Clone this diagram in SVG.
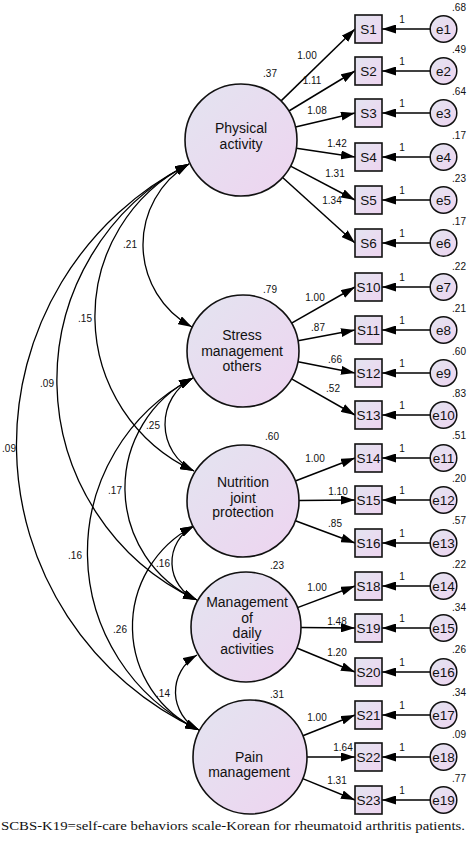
<svg xmlns="http://www.w3.org/2000/svg" width="469" height="846" viewBox="0 0 469 846">
<defs>
<linearGradient id="g" x1="0" y1="0" x2="1" y2="1">
<stop offset="0" stop-color="#e3e4f0"/>
<stop offset="1" stop-color="#eed4f0"/>
</linearGradient>
<marker id="ah" markerWidth="14" markerHeight="9" refX="14" refY="4.5" orient="auto-start-reverse" markerUnits="userSpaceOnUse">
<path d="M0,0 L14,4.5 L0,9 z" fill="#000"/>
</marker>
</defs>
<style>
.lat{fill:url(#g);stroke:#111;stroke-width:1.6}
.box{fill:url(#g);stroke:#111;stroke-width:1.6}
.err{fill:url(#g);stroke:#111;stroke-width:1.5}
.t{font-family:"Liberation Sans",Arial,sans-serif;fill:#111}
.lt{font-size:14px;text-anchor:middle}
.bt{font-size:13.5px;text-anchor:middle}
.n{font-size:10px;text-anchor:middle}
.ln{stroke:#000;stroke-width:1.5;fill:none;marker-end:url(#ah)}
.cv{stroke:#000;stroke-width:1.3;fill:none;marker-start:url(#ah);marker-end:url(#ah)}
.cap{font-family:"Liberation Serif","Times New Roman",serif;font-size:13.5px;fill:#111}
</style>

<g id="connectors">
<!-- loadings -->
<line class="ln" x1="281.1" y1="100.9" x2="355" y2="29"/>
<line class="ln" x1="288.9" y1="111" x2="355" y2="71"/>
<line class="ln" x1="295.5" y1="127.1" x2="355" y2="113"/>
<line class="ln" x1="296.4" y1="148.3" x2="355" y2="157"/>
<line class="ln" x1="290.6" y1="166.1" x2="355" y2="200"/>
<line class="ln" x1="282.6" y1="177.5" x2="355" y2="243"/>
<line class="ln" x1="291.6" y1="323.2" x2="355" y2="287"/>
<line class="ln" x1="298" y1="340.7" x2="355" y2="330"/>
<line class="ln" x1="298" y1="361.8" x2="355" y2="373"/>
<line class="ln" x1="291.6" y1="378.8" x2="355" y2="415"/>
<line class="ln" x1="295.3" y1="481" x2="355" y2="458"/>
<line class="ln" x1="299" y1="500.5" x2="355" y2="500"/>
<line class="ln" x1="295.4" y1="520.7" x2="355" y2="543"/>
<line class="ln" x1="297.5" y1="607.6" x2="355" y2="586"/>
<line class="ln" x1="301" y1="627.5" x2="355" y2="628"/>
<line class="ln" x1="296.8" y1="648" x2="355" y2="672"/>
<line class="ln" x1="302.9" y1="735.8" x2="355" y2="715"/>
<line class="ln" x1="307" y1="757" x2="355" y2="757"/>
<line class="ln" x1="302.7" y1="778.6" x2="355" y2="800"/>
<!-- error paths -->
<line class="ln" x1="430.2" y1="29" x2="382" y2="29"/>
<line class="ln" x1="430.2" y1="71" x2="382" y2="71"/>
<line class="ln" x1="430.2" y1="113" x2="382" y2="113"/>
<line class="ln" x1="430.2" y1="157" x2="382" y2="157"/>
<line class="ln" x1="430.2" y1="200" x2="382" y2="200"/>
<line class="ln" x1="430.2" y1="243" x2="382" y2="243"/>
<line class="ln" x1="430.2" y1="287" x2="382" y2="287"/>
<line class="ln" x1="430.2" y1="330" x2="382" y2="330"/>
<line class="ln" x1="430.2" y1="373" x2="382" y2="373"/>
<line class="ln" x1="430.2" y1="415" x2="382" y2="415"/>
<line class="ln" x1="430.2" y1="458" x2="382" y2="458"/>
<line class="ln" x1="430.2" y1="500" x2="382" y2="500"/>
<line class="ln" x1="430.2" y1="543" x2="382" y2="543"/>
<line class="ln" x1="430.2" y1="586" x2="382" y2="586"/>
<line class="ln" x1="430.2" y1="628" x2="382" y2="628"/>
<line class="ln" x1="430.2" y1="672" x2="382" y2="672"/>
<line class="ln" x1="430.2" y1="715" x2="382" y2="715"/>
<line class="ln" x1="430.2" y1="757" x2="382" y2="757"/>
<line class="ln" x1="430.2" y1="800" x2="382" y2="800"/>
<!-- covariances -->
<path class="cv" d="M189,164 A93.7,93.7 0 0 0 192,327"/>
<path class="cv" d="M189,164 A170.3,170.3 0 0 0 194,471"/>
<path class="cv" d="M189,164 A242.7,242.7 0 0 0 197,600"/>
<path class="cv" d="M189,164 A314.4,314.4 0 0 0 199,730"/>
<path class="cv" d="M193,378 A52.2,52.2 0 0 0 194,471"/>
<path class="cv" d="M193,378 A123,123 0 0 0 197,600"/>
<path class="cv" d="M193,378 A197,197 0 0 0 199,730"/>
<path class="cv" d="M194,526 A40.9,40.9 0 0 0 197,600"/>
<path class="cv" d="M194,526 A113.3,113.3 0 0 0 199,730"/>
<path class="cv" d="M197,655 A42.5,42.5 0 0 0 199,730"/>
<!-- labels -->
<g class="t n">
<text x="307" y="58.5">1.00</text>
<text x="312" y="83.5">1.11</text>
<text x="317" y="113.5">1.08</text>
<text x="337" y="146.5">1.42</text>
<text x="335" y="176.5">1.31</text>
<text x="332" y="203.5">1.34</text>
<text x="315" y="300.5">1.00</text>
<text x="318" y="330.5">.87</text>
<text x="335" y="362.5">.66</text>
<text x="333" y="391.5">.52</text>
<text x="315" y="461.5">1.00</text>
<text x="338" y="494.5">1.10</text>
<text x="335" y="526.5">.85</text>
<text x="317" y="590.5">1.00</text>
<text x="337" y="624.5">1.48</text>
<text x="337" y="655.5">1.20</text>
<text x="317" y="720.5">1.00</text>
<text x="343" y="750.5">1.64</text>
<text x="337" y="783.5">1.31</text>
<text x="402" y="23">1</text>
<text x="402" y="65">1</text>
<text x="402" y="107">1</text>
<text x="402" y="151">1</text>
<text x="402" y="194">1</text>
<text x="402" y="237">1</text>
<text x="402" y="281">1</text>
<text x="402" y="324">1</text>
<text x="402" y="367">1</text>
<text x="402" y="409">1</text>
<text x="402" y="452">1</text>
<text x="402" y="494">1</text>
<text x="402" y="537">1</text>
<text x="402" y="580">1</text>
<text x="402" y="622">1</text>
<text x="402" y="666">1</text>
<text x="402" y="709">1</text>
<text x="402" y="751">1</text>
<text x="402" y="794">1</text>
<text x="130" y="247.5">.21</text>
<text x="85" y="321.5">.15</text>
<text x="47" y="386.5">.09</text>
<text x="9" y="451.5">.09</text>
<text x="153" y="428.5">.25</text>
<text x="115" y="493.5">.17</text>
<text x="75" y="558.5">.16</text>
<text x="163" y="566.5">.16</text>
<text x="120" y="632.5">.26</text>
<text x="163" y="696.5">.14</text>
</g>
</g>

<g id="PA"><circle class="lat" cx="241" cy="140" r="56"/><text class="t lt" x="241" y="133">Physical</text><text class="t lt" x="241" y="148.5">activity</text><text class="t n" x="270" y="76.5">.37</text></g>
<g id="SM"><circle class="lat" cx="243" cy="351" r="56"/><text class="t lt" x="242" y="340">Stress</text><text class="t lt" x="242" y="355.5">management</text><text class="t lt" x="242" y="371">others</text><text class="t n" x="270" y="292.5">.79</text></g>
<g id="NJ"><circle class="lat" cx="243" cy="501" r="56"/><text class="t lt" x="243" y="487">Nutrition</text><text class="t lt" x="243" y="502.5">joint</text><text class="t lt" x="243" y="517">protection</text><text class="t n" x="272" y="439.5">.60</text></g>
<g id="MD"><circle class="lat" cx="246" cy="627" r="55"/><text class="t lt" x="247" y="607">Management</text><text class="t lt" x="247" y="622.5">of</text><text class="t lt" x="247" y="638">daily</text><text class="t lt" x="247" y="654">activities</text><text class="t n" x="277" y="568.5">.23</text></g>
<g id="PM"><circle class="lat" cx="250" cy="757" r="57"/><text class="t lt" x="249" y="762">Pain</text><text class="t lt" x="249" y="777">management</text><text class="t n" x="277" y="697.5">.31</text></g>

<g id="S1"><rect class="box" x="355" y="15" width="27" height="28"/><text class="t bt" x="368.5" y="34">S1</text></g>
<g id="S2"><rect class="box" x="355" y="57" width="27" height="28"/><text class="t bt" x="368.5" y="76">S2</text></g>
<g id="S3"><rect class="box" x="355" y="99" width="27" height="28"/><text class="t bt" x="368.5" y="118">S3</text></g>
<g id="S4"><rect class="box" x="355" y="143" width="27" height="28"/><text class="t bt" x="368.5" y="162">S4</text></g>
<g id="S5"><rect class="box" x="355" y="186" width="27" height="28"/><text class="t bt" x="368.5" y="205">S5</text></g>
<g id="S6"><rect class="box" x="355" y="229" width="27" height="28"/><text class="t bt" x="368.5" y="248">S6</text></g>
<g id="S10"><rect class="box" x="355" y="273" width="27" height="28"/><text class="t bt" x="368.5" y="292">S10</text></g>
<g id="S11"><rect class="box" x="355" y="316" width="27" height="28"/><text class="t bt" x="368.5" y="335">S11</text></g>
<g id="S12"><rect class="box" x="355" y="359" width="27" height="28"/><text class="t bt" x="368.5" y="378">S12</text></g>
<g id="S13"><rect class="box" x="355" y="401" width="27" height="28"/><text class="t bt" x="368.5" y="420">S13</text></g>
<g id="S14"><rect class="box" x="355" y="444" width="27" height="28"/><text class="t bt" x="368.5" y="463">S14</text></g>
<g id="S15"><rect class="box" x="355" y="486" width="27" height="28"/><text class="t bt" x="368.5" y="505">S15</text></g>
<g id="S16"><rect class="box" x="355" y="529" width="27" height="28"/><text class="t bt" x="368.5" y="548">S16</text></g>
<g id="S18"><rect class="box" x="355" y="572" width="27" height="28"/><text class="t bt" x="368.5" y="591">S18</text></g>
<g id="S19"><rect class="box" x="355" y="614" width="27" height="28"/><text class="t bt" x="368.5" y="633">S19</text></g>
<g id="S20"><rect class="box" x="355" y="658" width="27" height="28"/><text class="t bt" x="368.5" y="677">S20</text></g>
<g id="S21"><rect class="box" x="355" y="701" width="27" height="28"/><text class="t bt" x="368.5" y="720">S21</text></g>
<g id="S22"><rect class="box" x="355" y="743" width="27" height="28"/><text class="t bt" x="368.5" y="762">S22</text></g>
<g id="S23"><rect class="box" x="355" y="786" width="27" height="28"/><text class="t bt" x="368.5" y="805">S23</text></g>

<g id="e1"><circle class="err" cx="443.5" cy="29" r="13.3"/><text class="t bt" x="443.5" y="34">e1</text><text class="t n" x="459" y="11">.68</text></g>
<g id="e2"><circle class="err" cx="443.5" cy="71" r="13.3"/><text class="t bt" x="443.5" y="76">e2</text><text class="t n" x="459" y="53">.49</text></g>
<g id="e3"><circle class="err" cx="443.5" cy="113" r="13.3"/><text class="t bt" x="443.5" y="118">e3</text><text class="t n" x="459" y="95">.64</text></g>
<g id="e4"><circle class="err" cx="443.5" cy="157" r="13.3"/><text class="t bt" x="443.5" y="162">e4</text><text class="t n" x="459" y="139">.17</text></g>
<g id="e5"><circle class="err" cx="443.5" cy="200" r="13.3"/><text class="t bt" x="443.5" y="205">e5</text><text class="t n" x="459" y="182">.23</text></g>
<g id="e6"><circle class="err" cx="443.5" cy="243" r="13.3"/><text class="t bt" x="443.5" y="248">e6</text><text class="t n" x="459" y="225">.17</text></g>
<g id="e7"><circle class="err" cx="443.5" cy="287" r="13.3"/><text class="t bt" x="443.5" y="292">e7</text><text class="t n" x="459" y="270">.22</text></g>
<g id="e8"><circle class="err" cx="443.5" cy="330" r="13.3"/><text class="t bt" x="443.5" y="335">e8</text><text class="t n" x="459" y="312">.21</text></g>
<g id="e9"><circle class="err" cx="443.5" cy="373" r="13.3"/><text class="t bt" x="443.5" y="378">e9</text><text class="t n" x="459" y="355">.60</text></g>
<g id="e10"><circle class="err" cx="443.5" cy="415" r="13.3"/><text class="t bt" x="443.5" y="420">e10</text><text class="t n" x="459" y="397">.83</text></g>
<g id="e11"><circle class="err" cx="443.5" cy="458" r="13.3"/><text class="t bt" x="443.5" y="463">e11</text><text class="t n" x="459" y="439">.51</text></g>
<g id="e12"><circle class="err" cx="443.5" cy="500" r="13.3"/><text class="t bt" x="443.5" y="505">e12</text><text class="t n" x="459" y="482">.20</text></g>
<g id="e13"><circle class="err" cx="443.5" cy="543" r="13.3"/><text class="t bt" x="443.5" y="548">e13</text><text class="t n" x="459" y="524">.57</text></g>
<g id="e14"><circle class="err" cx="443.5" cy="586" r="13.3"/><text class="t bt" x="443.5" y="591">e14</text><text class="t n" x="459" y="568">.22</text></g>
<g id="e15"><circle class="err" cx="443.5" cy="628" r="13.3"/><text class="t bt" x="443.5" y="633">e15</text><text class="t n" x="459" y="611">.34</text></g>
<g id="e16"><circle class="err" cx="443.5" cy="672" r="13.3"/><text class="t bt" x="443.5" y="677">e16</text><text class="t n" x="459" y="653">.26</text></g>
<g id="e17"><circle class="err" cx="443.5" cy="715" r="13.3"/><text class="t bt" x="443.5" y="720">e17</text><text class="t n" x="459" y="696">.34</text></g>
<g id="e18"><circle class="err" cx="443.5" cy="757" r="13.3"/><text class="t bt" x="443.5" y="762">e18</text><text class="t n" x="459" y="738">.09</text></g>
<g id="e19"><circle class="err" cx="443.5" cy="800" r="13.3"/><text class="t bt" x="443.5" y="805">e19</text><text class="t n" x="459" y="782">.77</text></g>

<text class="cap" x="1" y="830" textLength="464" lengthAdjust="spacingAndGlyphs">SCBS-K19=self-care behaviors scale-Korean for rheumatoid arthritis patients.</text>
</svg>
